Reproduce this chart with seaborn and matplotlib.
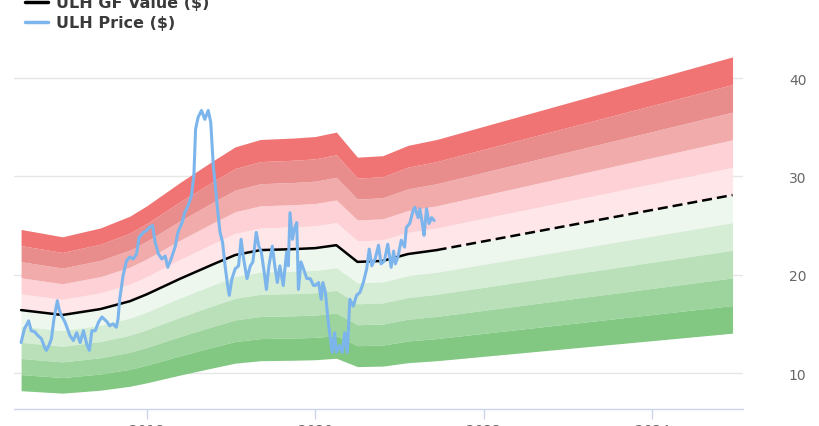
import numpy as np
import pandas as pd
import matplotlib
matplotlib.use("Agg")
import matplotlib.pyplot as plt
import seaborn as sns
from matplotlib.lines import Line2D

# GF Value (solid = history, dashed = projection)
gf_years = [2016.51, 2017.00, 2017.45, 2017.80, 2018.00, 2018.40, 2018.80, 2019.05,
            2019.35, 2019.75, 2020.00, 2020.25, 2020.50, 2020.80, 2021.10, 2021.44]
gf_values = [16.4, 15.9, 16.5, 17.3, 18.0, 19.6, 21.1, 22.0,
             22.5, 22.6, 22.7, 23.0, 21.3, 21.4, 22.1, 22.5]
proj_years = [2021.44, 2024.95]
proj_values = [22.5, 28.1]

# band multipliers around the GF Value
upper_mult = [1.1, 1.2, 1.3, 1.4, 1.5]
lower_mult = [0.9, 0.8, 0.7, 0.6, 0.5]
upper_colors = ["#ffe7e9", "#fdd1d6", "#f1abab", "#e98c8c", "#f07474"]
lower_colors = ["#eef7ee", "#d5ecd5", "#b9e0b9", "#9dd49d", "#82c882"]

# ULH price
price_years = [
    2016.51, 2016.55, 2016.60, 2016.63, 2016.67, 2016.71, 2016.75, 2016.79, 2016.81, 2016.84,
    2016.87, 2016.90, 2016.94, 2016.96, 2016.99, 2017.03, 2017.06, 2017.09, 2017.13, 2017.17,
    2017.21, 2017.25, 2017.29, 2017.32, 2017.35, 2017.39, 2017.43, 2017.47, 2017.53, 2017.56,
    2017.60, 2017.64, 2017.66, 2017.68, 2017.72, 2017.76, 2017.80, 2017.84, 2017.88, 2017.91,
    2017.96, 2018.00, 2018.03, 2018.07, 2018.10, 2018.14, 2018.18, 2018.22, 2018.25, 2018.29,
    2018.34, 2018.37, 2018.42, 2018.45, 2018.49, 2018.53, 2018.56, 2018.58, 2018.61, 2018.65,
    2018.69, 2018.73, 2018.76, 2018.79, 2018.81, 2018.84, 2018.87, 2018.90, 2018.93, 2018.96,
    2018.98, 2019.01, 2019.05, 2019.09, 2019.12, 2019.15, 2019.19, 2019.23, 2019.26, 2019.30,
    2019.33, 2019.36, 2019.40, 2019.42, 2019.45, 2019.49, 2019.52, 2019.55, 2019.58, 2019.62,
    2019.66, 2019.68, 2019.70, 2019.73, 2019.75, 2019.78, 2019.80, 2019.83, 2019.86, 2019.90,
    2019.94, 2019.98, 2020.00, 2020.04, 2020.07, 2020.09, 2020.12, 2020.15, 2020.17, 2020.20,
    2020.23, 2020.25, 2020.29, 2020.32, 2020.35, 2020.38, 2020.41, 2020.45, 2020.49, 2020.53,
    2020.57, 2020.61, 2020.64, 2020.67, 2020.71, 2020.75, 2020.78, 2020.82, 2020.86, 2020.90,
    2020.93, 2020.95, 2020.98, 2021.02, 2021.06, 2021.08, 2021.12, 2021.16, 2021.18, 2021.22,
    2021.24, 2021.27, 2021.29, 2021.32, 2021.35, 2021.38, 2021.41]
price_values = [
    13.1, 14.5, 15.3, 14.3, 14.2, 13.8, 13.5, 12.6, 12.3, 12.8,
    13.5, 15.5, 17.35, 16.5, 15.8, 15.2, 14.5, 13.8, 13.3, 14.1,
    13.1, 14.3, 12.9, 12.3, 14.3, 14.3, 15.2, 15.7, 15.2, 14.8,
    15.0, 14.65, 15.5, 17.5, 19.9, 21.4, 21.8, 21.6, 22.1, 23.8,
    24.3, 24.5, 24.8, 25.0, 23.3, 22.1, 21.6, 21.9, 20.75, 21.6,
    22.9, 24.3, 25.3, 26.3, 27.0, 28.0, 30.1, 34.8, 36.0, 36.7,
    35.8, 36.7, 35.5, 31.1, 29.4, 26.7, 24.3, 23.3, 20.9, 18.9,
    17.9, 19.55, 20.6, 20.9, 23.6, 21.6, 19.6, 20.9, 21.3, 24.3,
    22.9, 22.3, 19.9, 18.5, 20.9, 22.9, 20.9, 19.2, 20.9, 18.9,
    22.3, 20.9, 26.3, 23.6, 24.6, 25.3, 18.5, 21.3, 20.6, 19.6,
    19.6, 18.9, 18.9, 19.2, 17.5, 19.2, 18.2, 15.5, 14.1, 12.1,
    14.1, 12.1, 12.8, 12.1, 14.1, 12.1, 17.5, 16.8, 17.9, 18.2,
    19.2, 20.6, 22.6, 20.9, 21.6, 23.0, 21.1, 21.4, 23.1, 20.75,
    22.4, 21.1, 21.8, 23.5, 22.8, 24.8, 25.2, 26.5, 26.85, 25.8,
    26.7, 25.2, 24.0, 26.7, 25.2, 25.8, 25.5]

x_ticks = [2018, 2020, 2022, 2024]
y_ticks = [10, 20, 30, 40]

sns.set_style("white")
plt.rcParams["font.family"] = ["DejaVu Sans"]

fig = plt.figure(figsize=(8.2, 4.27), dpi=100)
ax = fig.add_axes([14 / 820, 1 - 410 / 427, 729 / 820, 360 / 427])

gf_df = pd.DataFrame({"year": gf_years + proj_years[1:], "value": gf_values + proj_values[1:]})
band_x = gf_df["year"].to_numpy()
band_v = gf_df["value"].to_numpy()

# upper bands
prev = band_v
for m, c in zip(upper_mult, upper_colors):
    ax.fill_between(band_x, prev, band_v * m, color=c, linewidth=0, zorder=1)
    prev = band_v * m
# lower bands
prev = band_v
for m, c in zip(lower_mult, lower_colors):
    ax.fill_between(band_x, band_v * m, prev, color=c, linewidth=0, zorder=1)
    prev = band_v * m

sns.lineplot(x=gf_years, y=gf_values, ax=ax, color="black", linewidth=1.8, zorder=3)
sns.lineplot(x=proj_years, y=proj_values, ax=ax, color="black", linewidth=1.8,
             linestyle=(0, (4, 2)), zorder=3)
sns.lineplot(x=price_years, y=price_values, ax=ax, color="#7cb5ec", linewidth=2.2, zorder=4)

ax.set_xlim(2016.426, 2025.074)
ax.set_ylim(6.34, 42.95)

ax.set_xticks(x_ticks)
ax.set_xticklabels([str(t) for t in x_ticks])
ax.set_yticks(y_ticks)
ax.yaxis.tick_right()
ax.tick_params(axis="y", length=0, pad=33, labelsize=10, labelcolor="#666666")
ax.tick_params(axis="x", length=7, width=1, color="#ccd6eb", direction="out",
               pad=3, labelsize=10, labelcolor="#666666", bottom=True)
ax.yaxis.grid(True, color="#e6e6e6", linewidth=1, zorder=0)
ax.set_axisbelow(True)
for side in ["top", "left", "right"]:
    ax.spines[side].set_visible(False)
ax.spines["bottom"].set_color("#ccd6eb")
ax.spines["bottom"].set_linewidth(1)
ax.set_xlabel("")
ax.set_ylabel("")

handles = [Line2D([0], [0], color="black", linewidth=2.5),
           Line2D([0], [0], color="#7cb5ec", linewidth=2.5)]
fig.legend(handles, ["ULH GF Value ($)", "ULH Price ($)"], loc="upper left",
           bbox_to_anchor=(19 / 820, 1 + 10 / 427), frameon=False,
           prop={"weight": "bold", "size": 11.5}, labelcolor="#3a3a3a",
           handlelength=1.4, handletextpad=0.5, labelspacing=0.3, borderaxespad=0)

fig.savefig("out.png", dpi=100)
